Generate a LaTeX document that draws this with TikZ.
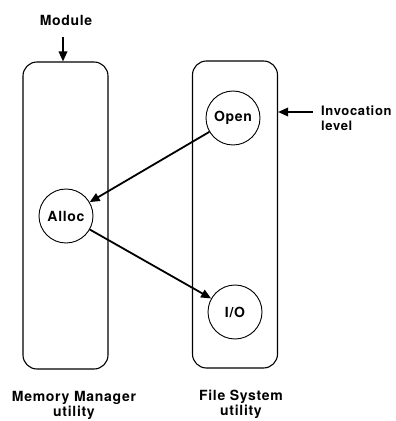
\documentclass[tikz,border=0pt]{standalone}
\usepackage{fontspec}
\setmainfont{TeX Gyre Heros}[LetterSpace=5]
\usetikzlibrary{arrows.meta}

\tikzset{
  utilbox/.style={draw, line width=1.1pt, rounded corners=14pt,
    minimum width=85pt, minimum height=307pt},
  routine/.style={draw, circle, line width=0.9pt, minimum size=54pt,
    inner sep=0pt, font=\fontsize{14}{15}\selectfont\bfseries},
  call/.style={->, line width=1.8pt},
  lbl/.style={font=\fontsize{14}{15}\selectfont\bfseries, align=center,
    inner sep=0pt}
}

\begin{document}
\begin{tikzpicture}[x=10pt, y=10pt, >={Triangle[length=10pt, width=8.5pt]}]
        \useasboundingbox (0,0) rectangle (39.6,42.1);
        % ==== UTILITIES ====
        \node[utilbox] (memmgr) at (6.55,20.55) {};
        \node[utilbox] (filesys) at (23.5,20.65) {};
        % ==== ROUTINES ====
        \node[routine] (open) at (23.3,30.3) {Open};
        \node[routine] (alloc) at (6.6,20.5) {Alloc};
        \node[routine] (io) at (23.5,10.9) {I/O};
        \draw[call] (open) -- (alloc);
        \draw[call] (alloc) -- (io);
        % ==== MARKERS ====
        \node[lbl] (module) at (6.6,40.1) {Module};
        \coordinate (modtail) at (6.3,38.4);
        \draw[call] (modtail) -- (modtail |- memmgr.north);
        \node[lbl, align=left, anchor=west, font=\fontsize{13}{15}\selectfont\bfseries]
            (invoc) at (32.1,30.25) {Invocation\\level};
        \coordinate (invtip) at (31.3,30.9);
        \draw[call] (invtip) -- (filesys.east |- invtip);
        % ==== NAMES ====
        \node[lbl] (memname) at (7.4,1.55) {Memory Manager\\utility};
        \node[lbl] (fsname) at (24.1,1.7) {File System\\utility};
\end{tikzpicture}
\end{document}
